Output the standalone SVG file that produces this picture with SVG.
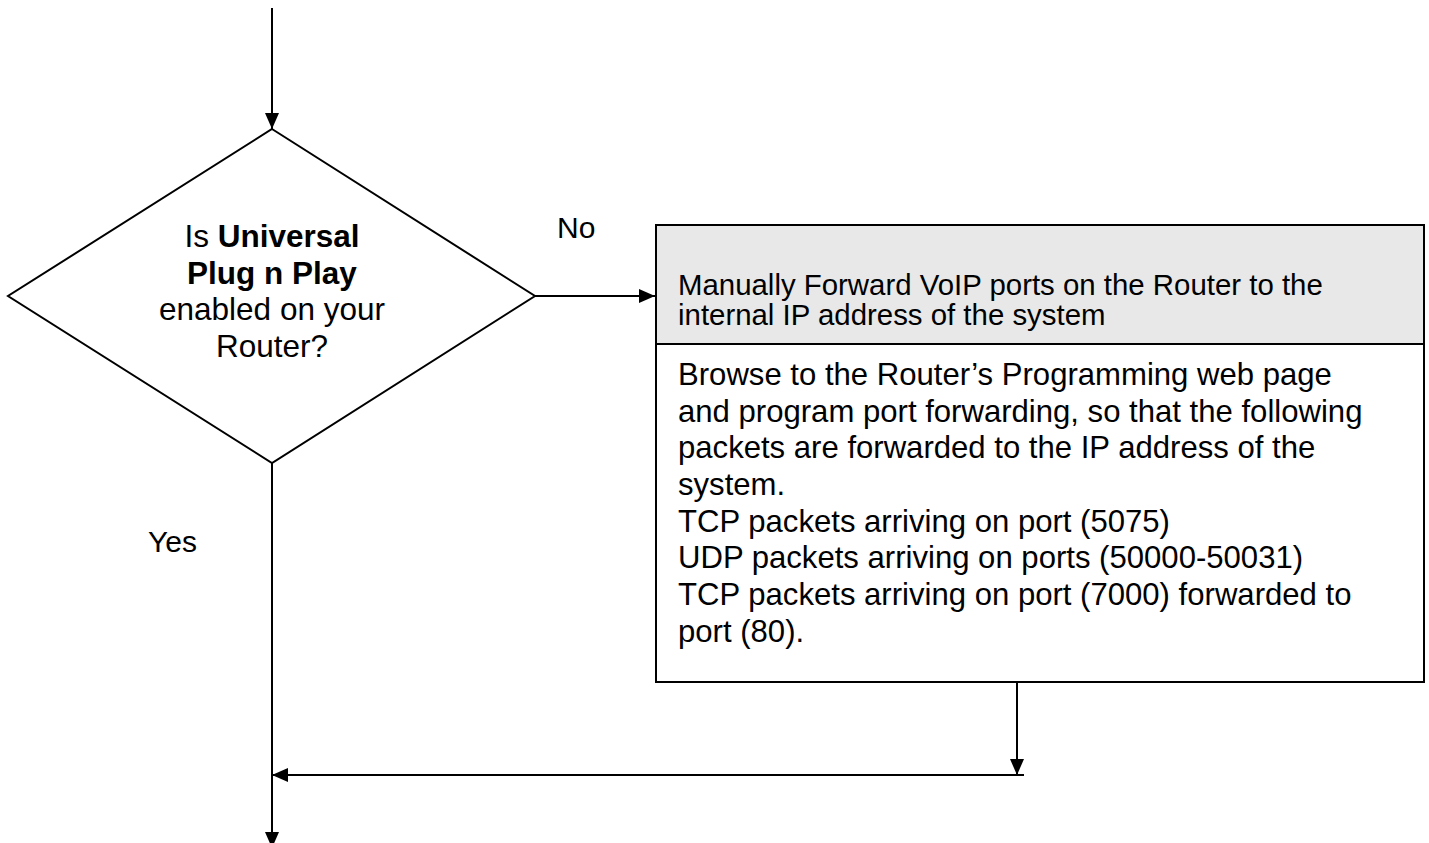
<svg xmlns="http://www.w3.org/2000/svg" width="1429" height="843" viewBox="0 0 1429 843">
  <style>
    text { font-family: "Liberation Sans", Arial, sans-serif; fill: #000; }
    .shape { fill: #fff; stroke: #000; stroke-width: 2; }
    .wire { fill: none; stroke: #000; stroke-width: 2; }
    .label { font-size: 30px; }
    .q { font-size: 31.5px; text-anchor: middle; }
    .head { font-size: 29.4px; }
    .body { font-size: 31.1px; }
  </style>
  <defs>
    <marker id="arrow" viewBox="0 0 16 14" refX="16" refY="7" markerWidth="16" markerHeight="14" markerUnits="userSpaceOnUse" orient="auto">
      <path d="M0,0 L16,7 L0,14 Z" fill="#000"/>
    </marker>
  </defs>

  <rect width="1429" height="843" fill="#fff"/>

  <!-- connectors -->
  <g id="connectors">
    <line class="wire" x1="272" y1="8" x2="272" y2="129" marker-end="url(#arrow)"/>
    <line class="wire" x1="535" y1="296" x2="655" y2="296" marker-end="url(#arrow)"/>
    <line class="wire" x1="272" y1="463" x2="272" y2="848" marker-end="url(#arrow)"/>
    <line class="wire" x1="1017" y1="682" x2="1017" y2="775" marker-end="url(#arrow)"/>
    <line class="wire" x1="1024" y1="775" x2="272" y2="775" marker-end="url(#arrow)"/>
    <text class="label" x="557" y="238">No</text>
    <text class="label" x="148" y="552">Yes</text>
  </g>

  <!-- decision -->
  <g id="decision-upnp">
    <polygon class="shape" stroke-width="1.6" points="272,129 535,296 272,463 8,296"/>
    <text class="q" x="272" y="247">Is <tspan font-weight="bold">Universal</tspan></text>
    <text class="q" x="272" y="284" font-weight="bold">Plug n Play</text>
    <text class="q" x="272" y="320">enabled on your</text>
    <text class="q" x="272" y="357">Router?</text>
  </g>

  <!-- manual port forwarding -->
  <g id="manual-forward">
    <rect class="shape" x="656" y="225" width="768" height="457"/>
    <rect x="657" y="226" width="766" height="118" fill="#e8e8e8"/>
    <line class="wire" x1="656" y1="344" x2="1424" y2="344"/>
    <text class="head" x="678" y="295">Manually Forward VoIP ports on the Router to the</text>
    <text class="head" x="678" y="325">internal IP address of the system</text>
    <text class="body" x="678" y="385">Browse to the Router’s Programming web page</text>
    <text class="body" x="678" y="422">and program port forwarding, so that the following</text>
    <text class="body" x="678" y="458">packets are forwarded to the IP address of the</text>
    <text class="body" x="678" y="495">system.</text>
    <text class="body" x="678" y="532">TCP packets arriving on port (5075)</text>
    <text class="body" x="678" y="568">UDP packets arriving on ports (50000-50031)</text>
    <text class="body" x="678" y="605">TCP packets arriving on port (7000) forwarded to</text>
    <text class="body" x="678" y="642">port (80).</text>
  </g>
</svg>
